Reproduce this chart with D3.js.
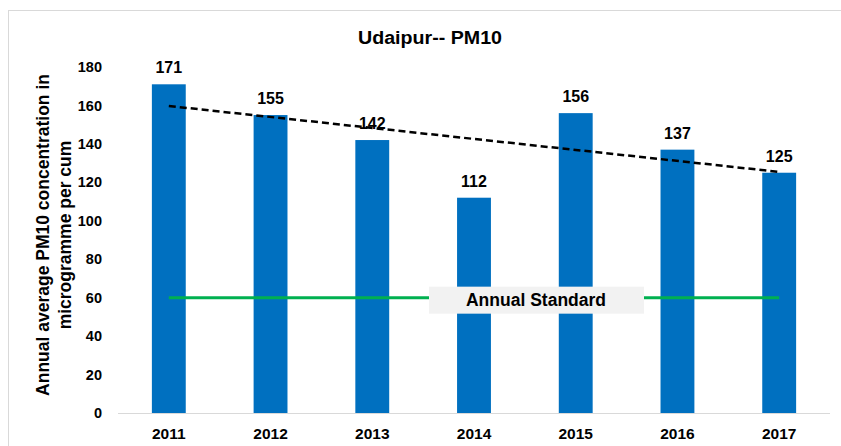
<!DOCTYPE html>
<html>
<head>
<meta charset="utf-8">
<script src="https://cdn.jsdelivr.net/npm/d3@7/dist/d3.min.js"></script>
<style>
  html, body { margin: 0; padding: 0; background: #fff; }
  svg { display: block; }
  text { font-family: "Liberation Sans", Arial, sans-serif; font-weight: bold; fill: #000; }
</style>
</head>
<body>
<svg id="chart" width="841" height="446"></svg>
<script>
const years = ["2011", "2012", "2013", "2014", "2015", "2016", "2017"];
const pm10 = [171, 155, 142, 112, 156, 137, 125];
const yTicks = [0, 20, 40, 60, 80, 100, 120, 140, 160, 180];
const standardValue = [60];
const chartTitle = "Udaipur-- PM10";
const standardLabel = "Annual Standard";
const yTitleLines = ["Annual average PM10 concentration in", "microgramme per cum"];

const svg = d3.select("#chart");

// outer frame
svg.append("rect").attr("x", 8.5).attr("y", 10.5).attr("width", 900).attr("height", 500)
  .attr("fill", "#fff").attr("stroke", "#d9d9d9").attr("stroke-width", 1);

const x = d3.scaleBand().domain(years).range([118, 830]).paddingInner(0.667).paddingOuter(0.333);
const y = d3.scaleLinear().domain([0, 180]).range([413, 67]);

// title (condensed look)
svg.append("text").attr("x", 358).attr("y", 43.5)
  .attr("textLength", 144).attr("lengthAdjust", "spacingAndGlyphs")
  .style("font-size", "18px").text(chartTitle);

// y axis (labels only)
const yAxis = d3.axisLeft(y).tickValues(yTicks).tickSize(0).tickPadding(0);
const gy = svg.append("g").attr("transform", "translate(102,0)").call(yAxis);
gy.select(".domain").remove();
gy.selectAll("text").style("font-size", "14.5px").style("font-family", "'Liberation Sans', Arial, sans-serif").style("font-weight", "bold").attr("fill", "#000");

// x axis
const xAxis = d3.axisBottom(x).tickSize(0).tickPadding(0);
const gx = svg.append("g").attr("transform", `translate(0,${y(0)})`).call(xAxis);
gx.select(".domain").attr("stroke", "#d9d9d9").attr("d", `M118,0.5H830`);
gx.selectAll("text").attr("dy", "0").attr("y", 26)
  .style("font-size", "15.5px").style("font-family", "'Liberation Sans', Arial, sans-serif")
  .style("font-weight", "bold").attr("fill", "#000");

// bars
svg.append("g").selectAll("rect").data(pm10).join("rect")
  .attr("x", (d, i) => x(years[i]))
  .attr("y", d => y(d))
  .attr("width", x.bandwidth())
  .attr("height", d => y(0) - y(d))
  .attr("fill", "#0070C0");

// value labels
svg.append("g").selectAll("text").data(pm10).join("text")
  .attr("x", (d, i) => x(years[i]) + x.bandwidth() / 2)
  .attr("y", d => y(d) - 11)
  .attr("text-anchor", "middle").style("font-size", "16px")
  .text(d => d);

// standard line
const cx = yr => x(yr) + x.bandwidth() / 2;
svg.append("line")
  .attr("x1", cx(years[0])).attr("x2", cx(years[years.length - 1]))
  .attr("y1", y(standardValue[0])).attr("y2", y(standardValue[0]))
  .attr("stroke", "#00B050").attr("stroke-width", 3);

// standard label
svg.append("rect").attr("x", 429).attr("y", y(standardValue[0]) - 11).attr("width", 215).attr("height", 27)
  .attr("fill", "#F2F2F2");
svg.append("text").attr("x", 536).attr("y", y(standardValue[0]) + 8.5)
  .attr("text-anchor", "middle").style("font-size", "17.5px").text(standardLabel);

// linear trend line (least squares from the data)
const n = pm10.length;
const xs = d3.range(n);
const mx = d3.mean(xs), my = d3.mean(pm10);
const slope = d3.sum(xs, (v, i) => (v - mx) * (pm10[i] - my)) / d3.sum(xs, v => (v - mx) ** 2);
const icpt = my - slope * mx;
svg.append("line")
  .attr("x1", cx(years[0])).attr("y1", y(icpt))
  .attr("x2", cx(years[n - 1])).attr("y2", y(icpt + slope * (n - 1)))
  .attr("stroke", "#000").attr("stroke-width", 2.5).attr("stroke-dasharray", "7,4");

// y axis title
const yt = svg.append("text").attr("transform", "translate(49,235) rotate(-90)")
  .attr("text-anchor", "middle").style("font-size", "17.5px");
yt.append("tspan").attr("x", 0).attr("dy", 0).text(yTitleLines[0]);
yt.append("tspan").attr("x", 0).attr("dy", 22).text(yTitleLines[1]);
</script>
</body>
</html>
